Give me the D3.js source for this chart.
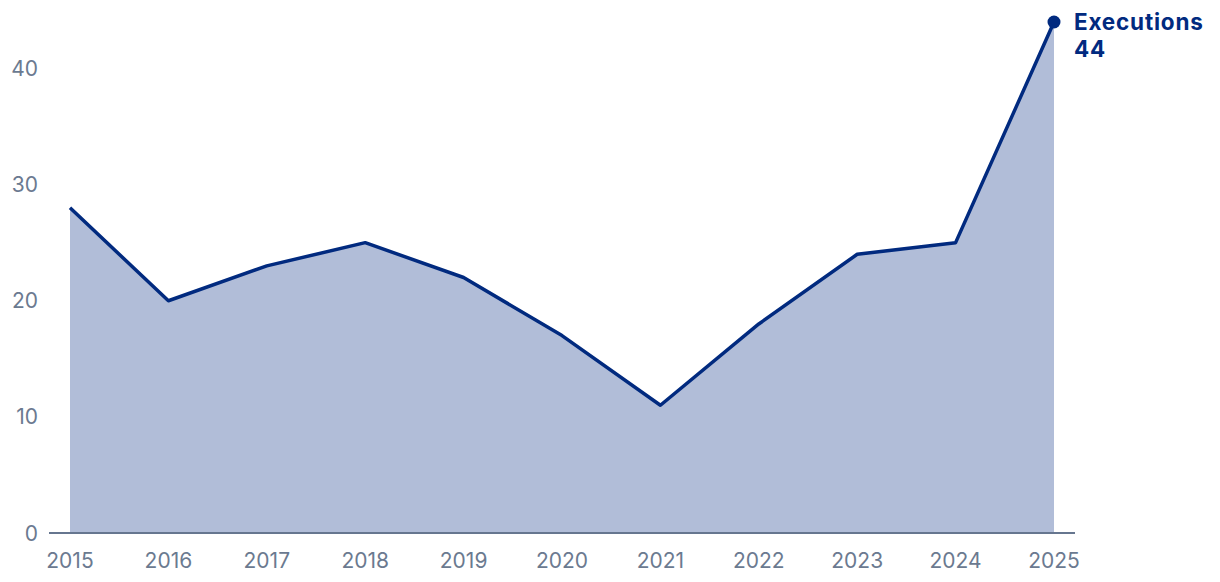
<!DOCTYPE html>
<html>
<head>
<meta charset="utf-8">
<script src="https://cdn.jsdelivr.net/npm/d3@7"></script>
<style>
  body { margin: 0; background: #fff; }
  svg text { font-family: Inter, "Noto Sans", sans-serif; }
</style>
</head>
<body>
<div class="chart"></div>
<script>
// data
const years = [2015, 2016, 2017, 2018, 2019, 2020, 2021, 2022, 2023, 2024, 2025];
const executions = [28, 20, 23, 25, 22, 17, 11, 18, 24, 25, 44];
const yTicks = [0, 10, 20, 30, 40];
const seriesName = "Executions";

const width = 1220, height = 582;
const margin = {top: 22, right: 166, bottom: 49, left: 70};

const svg = d3.select(".chart").append("svg")
  .attr("width", width)
  .attr("height", height);

const data = years.map((y, i) => ({year: y, value: executions[i]}));

const x = d3.scaleLinear()
  .domain([2015, 2025])
  .range([margin.left, width - margin.right]);

const y = d3.scaleLinear()
  .domain([0, 44])
  .range([height - margin.bottom, margin.top]);

// filled area
svg.append("path")
  .datum(data)
  .attr("fill", "#b1bdd8")
  .attr("d", d3.area().x(d => x(d.year)).y0(y(0)).y1(d => y(d.value)));

// baseline
svg.append("line")
  .attr("x1", 49).attr("x2", 1075)
  .attr("y1", y(0)).attr("y2", y(0))
  .attr("stroke", "#66768f")
  .attr("stroke-width", 2);

// line
svg.append("path")
  .datum(data)
  .attr("fill", "none")
  .attr("stroke", "#012a7f")
  .attr("stroke-width", 3.5)
  .attr("stroke-linejoin", "round")
  .attr("d", d3.line().x(d => x(d.year)).y(d => y(d.value)));

// y tick labels
svg.selectAll(".ytick").data(yTicks).join("text")
  .attr("class", "ytick")
  .attr("x", 38)
  .attr("y", d => y(d))
  .attr("dy", "0.36em")
  .attr("text-anchor", "end")
  .attr("fill", "#6b7a90")
  .attr("font-size", 21)
  .text(d => d);

// x tick labels
svg.selectAll(".xtick").data(years).join("text")
  .attr("class", "xtick")
  .attr("x", d => x(d))
  .attr("y", 568)
  .attr("text-anchor", "middle")
  .attr("fill", "#6b7a90")
  .attr("font-size", 21)
  .text(d => d);

// end point + label
const last = data[data.length - 1];
svg.append("circle")
  .attr("cx", x(last.year)).attr("cy", y(last.value))
  .attr("r", 6.5)
  .attr("fill", "#012a7f");

const lblStyle = sel => sel
  .attr("x", x(last.year) + 20)
  .attr("fill", "#012a7f")
  .attr("font-size", 22.5)
  .attr("letter-spacing", 0.8)
  .attr("font-weight", "bold");

svg.append("text").call(lblStyle)
  .attr("y", y(last.value) + 8)
  .text(seriesName);
svg.append("text").call(lblStyle)
  .attr("y", y(last.value) + 35)
  .text(last.value);
</script>
</body>
</html>
